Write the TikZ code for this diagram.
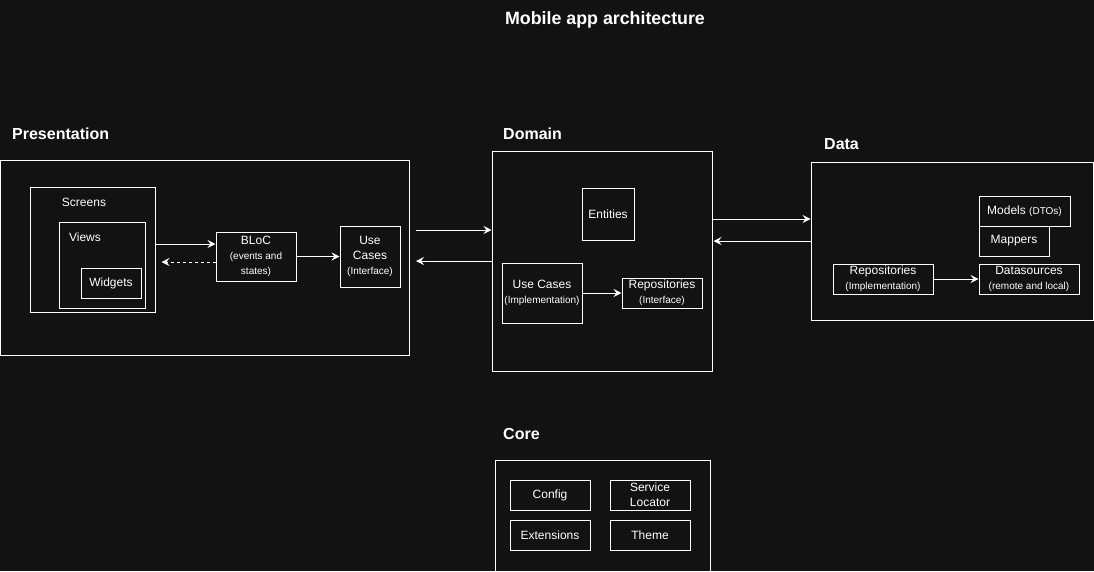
\documentclass[tikz,border=0pt]{standalone}
\usepackage{fontspec}
\setmainfont{Liberation Sans}
\usetikzlibrary{arrows.meta,positioning,calc}
\definecolor{bgdark}{HTML}{121212}

\tikzset{
    box/.style={draw=white, line width=1pt, text=white, align=center,
        inner sep=0pt, font=\fontsize{12}{15}\selectfont},
    layer/.style={draw=white, line width=1pt, inner sep=0pt},
    heading/.style={text=white, anchor=west, inner sep=0pt, font=\fontsize{16}{19}\bfseries},
    caption/.style={text=white, font=\fontsize{12}{15}\selectfont},
    arr/.style={draw=white, line width=1pt, -{Stealth[length=8pt,width=8pt,inset=3pt]}}
}
\newcommand{\sub}[1]{{\fontsize{10}{15}\selectfont #1}}

\begin{document}
\begin{tikzpicture}[x=1pt, y=-1pt]
    % fond et cadre
    \clip (0,0) rectangle (1094,571);
    \fill[bgdark] (0,0) rectangle (1094,571);
    \node[text=white, font=\fontsize{17.8}{20}\bfseries] (title) at (605,20) {Mobile app architecture};

    % couche presentation
    \node[heading] (hpres) at (12,134) {Presentation};
    \node[layer, minimum width=409pt, minimum height=195pt] (pres) at (205,257.5) {};
    \node[layer, minimum width=125pt, minimum height=125pt] (screens) at (92.5,249.5) {};
    \node[caption] (lscreens) at (84,202) {Screens};
    \node[layer, minimum width=86pt, minimum height=86pt] (views) at (102,265) {};
    \node[caption] (lviews) at (85,237) {Views};
    \node[box, minimum width=60pt, minimum height=30pt] (widgets) at (111,283.5) {Widgets};
    \node[box, minimum width=80pt, minimum height=49pt] (bloc) at (256,256.5)
        {BLoC\\\sub{(events and}\\\sub{states)}};
    \node[box, minimum width=60pt, minimum height=61pt] (ucint) at (370,256.5)
        {Use\\Cases\\\sub{(Interface)}};

    % couche domain
    \node[heading] (hdom) at (503,134) {Domain};
    \node[layer, minimum width=220pt, minimum height=220pt] (domain) at (602,261) {};
    \node[box, minimum width=52pt, minimum height=52pt] (entities) at (608,214) {Entities};
    \node[box, minimum width=80pt, minimum height=60pt] (ucimpl) at (542,293)
        {Use Cases\\\sub{(Implementation)}};
    \node[box, minimum width=80pt, minimum height=30pt] (repoint) at (662,293)
        {Repositories\\\sub{(Interface)}};

    % couche data
    \node[heading] (hdata) at (824,144) {Data};
    \node[layer, minimum width=282pt, minimum height=158pt] (data) at (952,241) {};
    \node[box, minimum width=91pt, minimum height=30pt] (models) at (1024.5,211)
        {Models \sub{(DTOs)}};
    \node[box, minimum width=70pt, minimum height=30pt] (mappers) at (1014,241) {Mappers};
    \node[box, minimum width=100pt, minimum height=30pt] (repoimpl) at (883,279)
        {Repositories\\\sub{(Implementation)}};
    \node[box, minimum width=100pt, minimum height=30pt] (sources) at (1029,279)
        {Datasources\\\sub{(remote and local)}};

    % couche core
    \node[heading] (hcore) at (503,434) {Core};
    \node[layer, minimum width=215pt, minimum height=140pt] (core) at (602.5,530) {};
    \node[box, minimum width=80pt, minimum height=30pt] (config) at (550,495) {Config};
    \node[box, minimum width=80pt, minimum height=30pt] (locator) at (650,495)
        {Service\\Locator};
    \node[box, minimum width=80pt, minimum height=30pt] (ext) at (550,535) {Extensions};
    \node[box, minimum width=80pt, minimum height=30pt] (theme) at (650,535) {Theme};

    % connexions
    \coordinate (sb) at ([yshift=12.5pt]bloc.west);
    \coordinate (bs) at ([yshift=-5.5pt]bloc.west);
    \coordinate (pd) at ([yshift=31pt]domain.west);
    \coordinate (dd) at ([yshift=22pt]data.west);
    \draw[arr] (screens.east |- sb) -- (sb);
    \draw[arr, dashed] (bs) -- ([xshift=6pt]screens.east |- bs);
    \draw[arr] (bloc.east) -- (ucint.west);
    \draw[arr] ([xshift=6pt]pres.east |- pd) -- (pd);
    \draw[arr] (domain.west) -- ([xshift=6pt]pres.east |- domain.west);
    \draw[arr] (domain.east |- dd) -- (dd);
    \draw[arr] (data.west) -- ([xshift=1pt]domain.east |- data.west);
    \draw[arr] (ucimpl.east) -- (repoint.west);
    \draw[arr] (repoimpl.east) -- (sources.west);
\end{tikzpicture}
\end{document}
